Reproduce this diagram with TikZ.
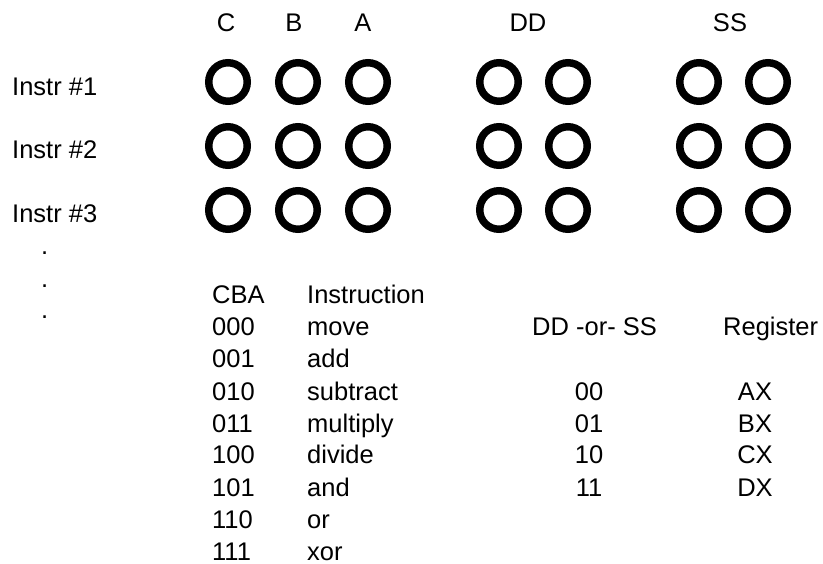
\documentclass[tikz,border=0pt]{standalone}
\usepackage{fontspec}
\setmainfont{Liberation Sans}
\usetikzlibrary{positioning}
\tikzset{bit/.style={circle,draw=black,line width=7.5pt,minimum size=38.5pt,inner sep=0pt},
  txt/.style={inner sep=0pt,anchor=base west,font=\fontsize{25.5}{30}\selectfont},
  ctxt/.style={txt,anchor=base}}

\begin{document}
\begin{tikzpicture}[x=1pt,y=-1pt]
  \useasboundingbox (0,0) rectangle (823,564);
  % field headers
  \node[ctxt] (hc) at (226,32) {C};
  \node[ctxt] (hb) at (294,32) {B};
  \node[ctxt] (ha) at (363,32) {A};
  \node[ctxt] (hd) at (528,32) {DD};
  \node[ctxt] (hs) at (730,32) {SS};
  % instruction rows of bits
  \foreach \r/\y/\yb in {1/82/96,2/146/159,3/210/223}{
    \node[txt] (instr\r) at (12,\yb) {Instr \#\r};
    \foreach \c/\x in {c/228,b/298,a/368,d1/499,d2/568,s1/699,s2/768}
      \node[bit] (bit\r\c) at (\x,\y) {};
  }
  \foreach \i/\y in {1/255,2/288,3/319}
    \node[txt] (dot\i) at (41,\y) {.};
  % opcode table
  \node[txt] (cba) at (212,304) {CBA};
  \node[txt] (instrhead) at (307,304) {Instruction};
  \foreach \code/\op [count=\i] in {000/move,001/add,010/subtract,011/multiply,
      100/divide,101/and,110/or,111/xor}{
    \node[txt] (code\i) at (212,{304+32*\i}) {\code};
    \node[txt] (op\i) at (307,{304+32*\i}) {\op};
  }
  % register table
  \node[txt] (reghead) at (532,336) {DD -or- SS};
  \node[txt] (regname) at (723,336) {Register};
  \foreach \bits/\reg [count=\i] in {00/AX,01/BX,10/CX,11/DX}{
    \node[ctxt] (bits\i) at (589,{368+32*\i}) {\bits};
    \node[ctxt] (reg\i) at (755,{368+32*\i}) {\reg};
  }
\end{tikzpicture}
\end{document}
